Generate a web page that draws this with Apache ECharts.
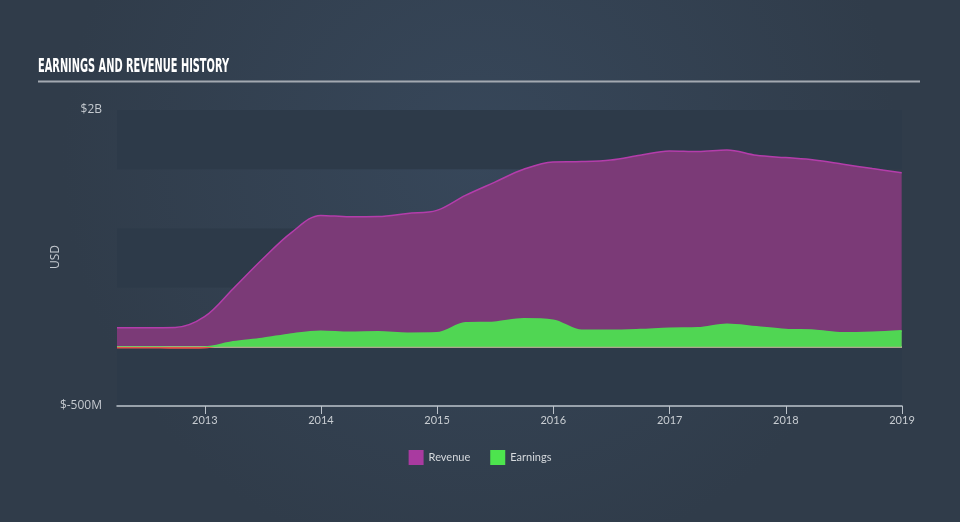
<!DOCTYPE html>
<html>
<head>
<meta charset="utf-8">
<script src="https://cdn.jsdelivr.net/npm/echarts@6/dist/echarts.min.js"></script>
<style>
html,body{margin:0;padding:0;background:#333f4f;}
#c{width:960px;height:522px;}
</style>
</head>
<body>
<div id="c"></div>
<script>
const dates = ['2012-03-31','2012-06-30','2012-09-30','2012-12-31','2013-03-31','2013-06-30','2013-09-30','2013-12-31','2014-03-31','2014-06-30','2014-09-30','2014-12-31','2015-03-31','2015-06-30','2015-09-30','2015-12-31','2016-03-31','2016-06-30','2016-09-30','2016-12-31','2017-03-31','2017-06-30','2017-09-30','2017-12-31','2018-03-31','2018-06-30','2018-09-30','2018-12-31'];
const revenue = [161,161,163,254,491,737,965,1110,1098,1100,1126,1152,1279,1389,1499,1561,1564,1578,1618,1654,1649,1663,1618,1598,1578,1542,1505,1471]; // USD millions
const earnings = [-5,-5,-8,-5,40,68,107,130,121,124,113,116,200,206,234,223,138,138,144,155,158,189,167,144,138,116,121,133]; // USD millions
const yearTicks = ['2013','2014','2015','2016','2017','2018','2019'];
const yTickLabels = {'-500':'$-500M','2000':'$2B'};

const ts = d => { const p = d.split('-').map(Number); return Date.UTC(p[0], p[1]-1, p[2]); };
const yearTs = yearTicks.map(y => Date.UTC(+y, 0, 1));

const TITLE = 'EARNINGS AND REVENUE HISTORY';
const TITLE_FONT = 'bold 20px "DejaVu Sans Condensed", "DejaVu Sans", sans-serif';
const mctx = document.createElement('canvas').getContext('2d');
mctx.font = TITLE_FONT;
const titleScale = 191 / mctx.measureText(TITLE).width;

const GREEN = '#50d653', RED = '#e8524a';

const chart = echarts.init(document.getElementById('c'), null, {renderer:'canvas'});
chart.setOption({
  backgroundColor: {
    type: 'radial', x: 0.5, y: 0.3, r: 0.8,
    colorStops: [{offset: 0, color: '#37475a'}, {offset: 1, color: '#303c4a'}]
  },
  animation: false,
  graphic: [
    {type:'text', x: 38, y: 67, scaleX: titleScale, style:{text: TITLE, fill:'#ffffff', font: TITLE_FONT, verticalAlign:'middle'}},
    {type:'rect', shape:{x:38, y:80.5, width:882, height:2}, style:{fill:'#a3a9b1'}},
    {type:'text', x: 56, y: 257, rotation: Math.PI/2, style:{text:'USD', fill:'#c4c9cf', font:'12px "Open Sans"', align:'center', verticalAlign:'middle'}}
  ],
  grid: {left: 117, right: 58, top: 110, bottom: 116},
  legend: {
    bottom: 52, left: 'center', icon: 'rect', itemWidth: 15, itemHeight: 15, itemGap: 20,
    textStyle: {color: '#d5d9dd', fontSize: 11, fontFamily: 'Lato'},
    data: [{name:'Revenue', itemStyle:{color:'#a93aa0'}}, {name:'Earnings', itemStyle:{color:'#4de44e'}}]
  },
  xAxis: {
    type: 'value',
    min: ts('2012-03-31'), max: Date.UTC(2019,0,1),
    axisLine: {onZero: false, lineStyle: {color: '#bcc3cb', width: 1.5}},
    axisTick: {show: true, customValues: yearTs, length: 8, lineStyle:{color:'#bcc3cb'}},
    axisLabel: {customValues: yearTs, color: '#c8cdd2', fontSize: 11, fontFamily: 'Lato', margin: 9,
      formatter: v => String(new Date(v).getUTCFullYear())},
    splitLine: {show: false}
  },
  yAxis: {
    type: 'value', min: -500, max: 2000, interval: 500,
    axisLine: {show: false}, axisTick: {show: false},
    axisLabel: {color: '#c4c9cf', fontSize: 12, fontFamily: 'Open Sans', margin: 15,
      formatter: v => yTickLabels[String(v)] || ''},
    splitLine: {show: false},
    splitArea: {show: true, areaStyle: {color: ['#2d3a49', 'rgba(0,0,0,0)']}}
  },
  series: [
    {
      name: 'Revenue', type: 'line', smooth: 0.35, symbol: 'none', z: 2,
      data: dates.map((d,i) => [ts(d), revenue[i]]),
      lineStyle: {color: '#b43dab', width: 1.5},
      itemStyle: {color: '#a93aa0'},
      areaStyle: {color: '#7b3a77', opacity: 1},
      markLine: {silent: true, symbol: 'none', label: {show: false},
        lineStyle: {color: '#d8cba3', width: 1.5, type: 'solid'},
        data: [{yAxis: 0}]}
    },
    {
      name: 'Earnings', type: 'line', smooth: 0.35, symbol: 'none', z: 6,
      data: dates.map((d,i) => [ts(d), earnings[i]]),
      lineStyle: {width: 2, color: GREEN},
      itemStyle: {color: '#4de44e'},
      areaStyle: {opacity: 1, color: GREEN}
    }
  ]
});

// colour the loss part of the earnings line red, split at the zero level
const y0 = chart.convertToPixel({yAxisIndex: 0}, 0);
const split = y0 / 522;
const grad = {type: 'linear', x: 0, y: 0, x2: 0, y2: 522, global: true,
  colorStops: [{offset: 0, color: GREEN}, {offset: split, color: GREEN}, {offset: split, color: RED}, {offset: 1, color: RED}]};
chart.setOption({series: [{}, {lineStyle: {color: grad}, areaStyle: {color: grad}}]});
</script>
</body>
</html>
